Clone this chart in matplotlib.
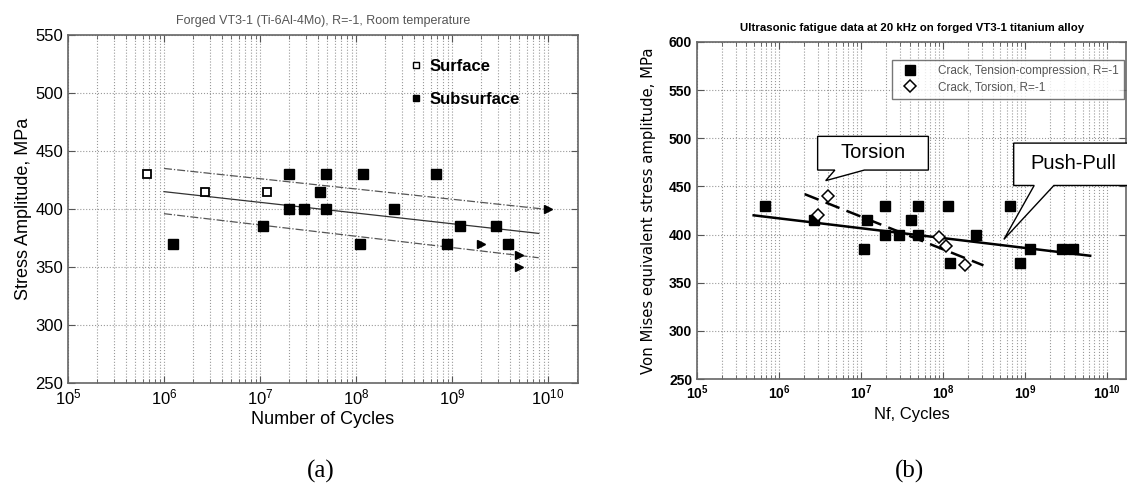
import matplotlib
matplotlib.use('Agg')
import matplotlib.pyplot as plt
from matplotlib.patches import Polygon
from matplotlib.lines import Line2D

plt.rcParams['font.family'] = ['Liberation Sans', 'DejaVu Sans']
plt.rcParams['mathtext.fontset'] = 'custom'
plt.rcParams['mathtext.rm'] = 'Liberation Sans'

# (a) forged VT3-1, R=-1, room temperature
a_surf_n = [6.6e5, 2.7e6, 1.17e7]
a_surf_s = [430, 415, 415]
a_sub_n = [1.24e6, 1.07e7, 2e7, 2e7, 2.9e7, 4.2e7, 4.9e7, 4.9e7, 1.1e8, 1.17e8,
           2.5e8, 6.8e8, 8.8e8, 1.2e9, 2.9e9, 3.8e9]
a_sub_s = [370, 385, 430, 400, 400, 415, 430, 400, 370, 430,
           400, 430, 370, 385, 385, 370]
a_run_n = [2e9, 5e9, 5e9, 1e10]
a_run_s = [370, 360, 350, 400]
a_fit_n = [1e6, 8e9]
a_fit_s = [415, 379]
a_up_n = [1e6, 9e9]
a_up_s = [435, 400]
a_lo_n = [1e6, 8e9]
a_lo_s = [396, 358]

# (b) ultrasonic fatigue data at 20 kHz
b_tc_n = [6.7e5, 2.7e6, 1.07e7, 1.18e7, 1.95e7, 1.95e7, 2.9e7, 4.1e7, 4.9e7, 4.9e7,
          1.15e8, 1.2e8, 2.5e8, 6.6e8, 8.7e8, 1.15e9, 2.8e9, 3.8e9]
b_tc_s = [430, 415, 385, 415, 430, 400, 400, 415, 430, 400,
          430, 370, 400, 430, 370, 385, 385, 385]
b_tor_n = [3.0e6, 3.9e6, 8.9e7, 1.07e8, 1.86e8]
b_tor_s = [420, 440, 398, 388, 368]
b_pp_fit_n = [4.9e5, 6.2e9]
b_pp_fit_s = [420, 378]
b_tor_fit_n = [2.05e6, 3.1e8]
b_tor_fit_s = [442, 368]

xticks = [1e5, 1e6, 1e7, 1e8, 1e9, 1e10]
yticks_a = [250, 300, 350, 400, 450, 500, 550]
yticks_b = [250, 300, 350, 400, 450, 500, 550, 600]

fig = plt.figure(figsize=(11.27, 4.9), dpi=100)
ax1 = fig.add_axes([0.0603, 0.2184, 0.4525, 0.710])
ax2 = fig.add_axes([0.6185, 0.2265, 0.3807, 0.6878])

for ax in (ax1, ax2):
    ax.set_xscale('log')
    ax.set_xticks(xticks)
    ax.grid(True, which='both', axis='x', linestyle=':', color='#999999', linewidth=0.8)
    ax.grid(True, which='major', axis='y', linestyle=':', color='#999999', linewidth=0.8)
    ax.tick_params(which='both', direction='in', top=True, right=True, color='#555555')
    ax.tick_params(which='major', length=5)
    ax.tick_params(which='minor', length=3)
    for sp in ax.spines.values():
        sp.set_color('#666666')
        sp.set_linewidth(1.2)

# ---- (a)
ax1.set_xlim(1e5, 2.05e10)
ax1.set_ylim(250, 550)
ax1.set_yticks(yticks_a)
ax1.tick_params(labelsize=12)
ax1.plot(a_fit_n, a_fit_s, color='#333333', lw=0.9)
ax1.plot(a_up_n, a_up_s, color='#555555', lw=0.9, linestyle='-.')
ax1.plot(a_lo_n, a_lo_s, color='#555555', lw=0.9, linestyle='-.')
ax1.plot(a_surf_n, a_surf_s, 's', mfc='white', mec='black', mew=1.3, ms=6)
ax1.plot(a_sub_n, a_sub_s, 's', color='black', ms=6.5)
ax1.plot(a_run_n, a_run_s, '>', color='black', ms=6)
ax1.set_title('Forged VT3-1 (Ti-6Al-4Mo), R=-1, Room temperature',
              fontsize=9, color='#555555', pad=8)
ax1.set_xlabel('Number of Cycles', fontsize=13, labelpad=2)
ax1.set_ylabel('Stress Amplitude, MPa', fontsize=13, labelpad=2)
h1 = [Line2D([], [], ls='none', marker='s', mfc='white', mec='black', mew=1, ms=5),
      Line2D([], [], ls='none', marker='s', color='black', ms=5)]
ax1.legend(h1, ['Surface', 'Subsurface'], loc='upper left', bbox_to_anchor=(0.66, 0.95),
           frameon=False, prop={'weight': 'bold', 'size': 12}, handlelength=0.6,
           handletextpad=0.5, labelspacing=1.05, borderaxespad=0)

# ---- (b)
ax2.set_xlim(1e5, 1.7e10)
ax2.set_ylim(250, 600)
ax2.set_yticks(yticks_b)
ax2.tick_params(labelsize=10)
for lab in ax2.get_xticklabels() + ax2.get_yticklabels():
    lab.set_fontweight('bold')
ax2.plot(b_pp_fit_n, b_pp_fit_s, color='black', lw=1.8)
ax2.plot(b_tor_fit_n, b_tor_fit_s, color='black', lw=1.8, linestyle=(0, (6, 3)))
ax2.plot(b_tc_n, b_tc_s, 's', color='black', ms=7, ls='none',
         label='Crack, Tension-compression, R=-1')
ax2.plot(b_tor_n, b_tor_s, 'D', mfc='white', mec='black', mew=1.1, ms=6, ls='none',
         label='Crack, Torsion, R=-1')
ax2.set_title('Ultrasonic fatigue data at 20 kHz on forged VT3-1 titanium alloy',
              fontsize=8.2, fontweight='bold', pad=8)
ax2.set_xlabel('Nf, Cycles', fontsize=12, labelpad=3)
ax2.set_ylabel('Von Mises equivalent stress amplitude, MPa', fontsize=10.7,
               family='DejaVu Sans', labelpad=9)
leg = ax2.legend(loc='upper right', bbox_to_anchor=(0.995, 0.947), borderaxespad=0,
                 fancybox=False, fontsize=8.5, labelcolor='#555555', handletextpad=1.4,
                 borderpad=0.45, labelspacing=0.35)
leg.get_frame().set_edgecolor('#555555')
leg.get_frame().set_linewidth(1.0)

# callouts
tor_box = [(10**6.47, 502), (10**7.82, 502), (10**7.82, 467), (10**7.04, 467),
           (3.7e6, 456), (10**6.68, 467), (10**6.47, 467)]
ax2.add_patch(Polygon(tor_box, closed=True, fc='white', ec='black', lw=1.0, zorder=5))
ax2.text(10**7.15, 485, 'Torsion', fontsize=14.5, ha='center', va='center', zorder=6)

pp_box = [(10**8.86, 495), (10**10.35, 495), (10**10.35, 451), (10**9.35, 451),
          (5.5e8, 395), (10**9.11, 451), (10**8.86, 451)]
ax2.add_patch(Polygon(pp_box, closed=True, fc='white', ec='black', lw=1.0,
                      zorder=5, clip_on=False))
ax2.text(10**9.59, 474, 'Push-Pull', fontsize=14.5, ha='center', va='center', zorder=6)

fig.text(0.285, 0.037, '(a)', fontsize=18, family='Liberation Serif',
         ha='center', va='center')
fig.text(0.807, 0.037, '(b)', fontsize=18, family='Liberation Serif',
         ha='center', va='center')

fig.savefig('out.png', dpi=100)
